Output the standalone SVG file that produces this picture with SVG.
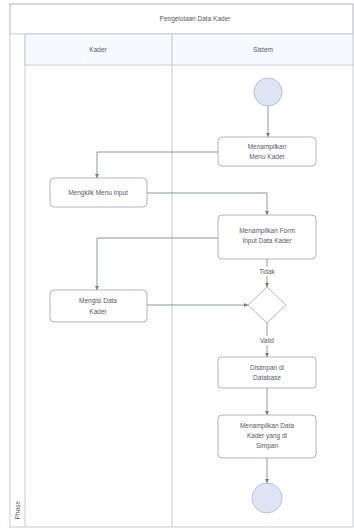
<svg xmlns="http://www.w3.org/2000/svg" width="354" height="531" viewBox="0 0 354 531">
  <style>
    .frame { fill: none; stroke: #c9ccd6; stroke-width: 1; }
    .hdr { fill: #f6f9fd; stroke: #c9ccd6; stroke-width: 1; }
    .act { fill: #ffffff; stroke: #9aa2b0; stroke-width: 0.8; }
    .dot { fill: #dfe4f4; stroke: #b7c0dc; stroke-width: 1; }
    .lbl { font-family: "Liberation Sans", Arial, sans-serif; font-size: 6.5px; fill: #555a66; text-anchor: middle; }
    .conn { fill: none; stroke: #6f7d93; stroke-width: 0.8; }
  </style>
  <defs>
    <marker id="arr" viewBox="0 0 6 6" refX="6" refY="3" markerWidth="5" markerHeight="5" orient="auto">
      <path d="M0,0 L6,3 L0,6 Z" fill="#6f7d93"/>
    </marker>
  </defs>
  <rect width="354" height="531" fill="#ffffff"/>

  <!-- pool frame -->
  <g id="pool">
    <rect class="frame" x="10" y="4" width="343" height="523"/>
    <rect class="frame" x="10" y="4" width="343" height="30" fill="#ffffff"/>
    <text class="lbl" x="195" y="21">Pengelolaan Data Kader</text>
    <line class="frame" x1="25" y1="34" x2="25" y2="527"/>
    <rect class="hdr" x="25" y="34" width="147" height="31"/>
    <rect class="hdr" x="172" y="34" width="181" height="31"/>
    <text class="lbl" x="98" y="52">Kader</text>
    <text class="lbl" x="263" y="52">Sistem</text>
    <line class="frame" x1="172" y1="65" x2="172" y2="527"/>
    <text class="lbl" transform="translate(19.5,510) rotate(-90)">Phase</text>
  </g>

  <!-- connectors -->
  <g id="connectors">
    <path class="conn" d="M268,106 V137" marker-end="url(#arr)"/>
    <path class="conn" d="M218,152 H97 V178" marker-end="url(#arr)"/>
    <path class="conn" d="M147,193 H267 V215" marker-end="url(#arr)"/>
    <path class="conn" d="M218,238 H97 V290" marker-end="url(#arr)"/>
    <path class="conn" d="M267,259 V287" marker-end="url(#arr)"/>
    <path class="conn" d="M147,305 H248" marker-end="url(#arr)"/>
    <path class="conn" d="M267,323 V357" marker-end="url(#arr)"/>
    <path class="conn" d="M267,388 V415" marker-end="url(#arr)"/>
    <path class="conn" d="M267,458 V483" marker-end="url(#arr)"/>
    <rect x="256" y="267" width="22" height="9" fill="#ffffff"/>
    <text class="lbl" x="267" y="274">Tidak</text>
    <rect x="257" y="336" width="20" height="9" fill="#ffffff"/>
    <text class="lbl" x="267" y="343">Valid</text>
  </g>

  <g id="start">
    <circle class="dot" cx="268" cy="92" r="14"/>
  </g>

  <g id="menampilkan-menu">
    <rect class="act" x="218" y="137" width="98" height="29" rx="4"/>
    <text class="lbl" x="267" y="149">Menampilkan</text>
    <text class="lbl" x="267" y="159">Menu Kader</text>
  </g>

  <g id="mengklik-menu">
    <rect class="act" x="50" y="178" width="97" height="29" rx="4"/>
    <text class="lbl" x="98" y="195">Mengklik Menu input</text>
  </g>

  <g id="menampilkan-form">
    <rect class="act" x="218" y="215" width="98" height="44" rx="4"/>
    <text class="lbl" x="267" y="233">Menampilkan Form</text>
    <text class="lbl" x="267" y="243">Input Data Kader</text>
  </g>

  <g id="mengisi-data">
    <rect class="act" x="50" y="290" width="97" height="32" rx="4"/>
    <text class="lbl" x="98" y="303">Mengisi Data</text>
    <text class="lbl" x="98" y="314">Kader</text>
  </g>

  <g id="keputusan">
    <polygon class="act" points="267,287 286,305 267,323 248,305"/>
  </g>

  <g id="disimpan">
    <rect class="act" x="218" y="357" width="98" height="31" rx="3"/>
    <text class="lbl" x="267" y="370">Disimpan di</text>
    <text class="lbl" x="267" y="380">Database</text>
  </g>

  <g id="menampilkan-data">
    <rect class="act" x="218" y="415" width="98" height="43" rx="4"/>
    <text class="lbl" x="267" y="428">Menampilkan Data</text>
    <text class="lbl" x="267" y="438">Kader yang di</text>
    <text class="lbl" x="267" y="448">Simpan</text>
  </g>

  <g id="end">
    <circle class="dot" cx="267" cy="498" r="15"/>
  </g>
</svg>
